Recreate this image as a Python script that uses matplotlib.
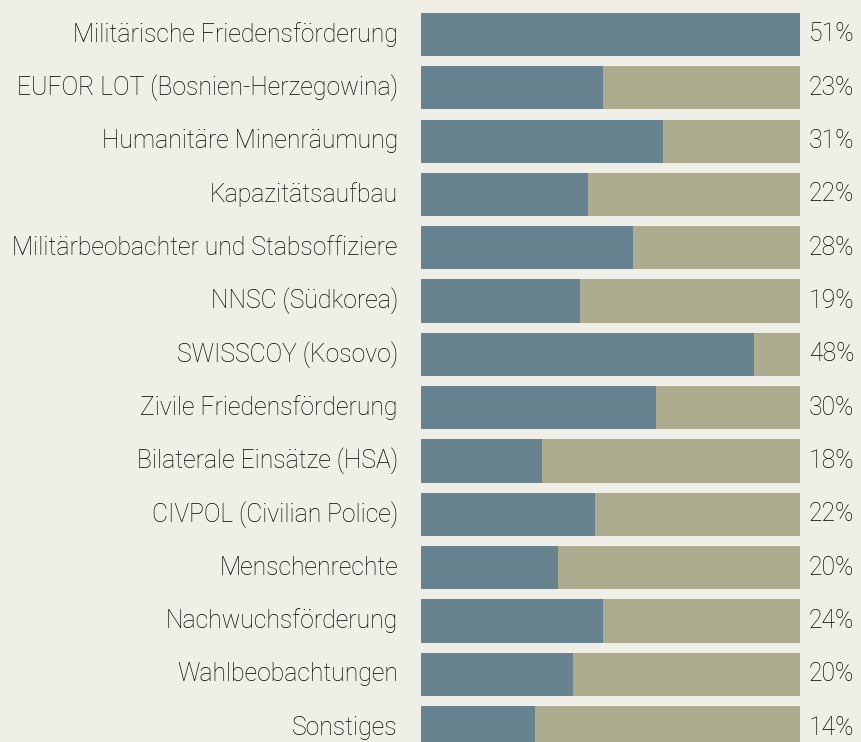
import matplotlib.pyplot as plt
import numpy as np

categories = [
    "Militärische Friedensförderung",
    "EUFOR LOT (Bosnien-Herzegowina)",
    "Humanitäre Minenräumung",
    "Kapazitätsaufbau",
    "Militärbeobachter und Stabsoffiziere",
    "NNSC (Südkorea)",
    "SWISSCOY (Kosovo)",
    "Zivile Friedensförderung",
    "Bilaterale Einsätze (HSA)",
    "CIVPOL (Civilian Police)",
    "Menschenrechte",
    "Nachwuchsförderung",
    "Wahlbeobachtungen",
    "Sonstiges",
]
# blue share of each bar (bar = 1.0)
share = [1.0, 0.48, 0.639, 0.441, 0.559, 0.42, 0.879, 0.62, 0.319, 0.459, 0.361, 0.48, 0.401, 0.301]
labels = ["51%", "23%", "31%", "22%", "28%", "19%", "48%", "30%", "18%", "22%", "20%", "24%", "20%", "14%"]

bg = "#F0EFE7"
blue = "#68838F"
beige = "#ADAB90"

fig = plt.figure(figsize=(8.62, 7.42), dpi=100, facecolor=bg)
ax = fig.add_axes([421 / 862, 0, 379 / 862, 1])
ax.set_facecolor(bg)

y = np.arange(len(categories))
share = np.array(share)
ax.barh(y, share, height=0.81, color=blue)
ax.barh(y, 1 - share, left=share, height=0.81, color=beige)

ax.set_xlim(0, 1)
ax.set_ylim(13.27, -0.647)
ax.axis("off")

for i, (cat, lab) in enumerate(zip(categories, labels)):
    ax.text(-0.061, i, cat, ha="right", va="center", fontsize=17.8,
            family="Roboto", fontweight="light", color="black")
    ax.text(1.024, i, lab, ha="left", va="center", fontsize=17.8,
            family="Roboto", fontweight="light", color="black")

fig.savefig("out.png", dpi=100, facecolor=bg)
